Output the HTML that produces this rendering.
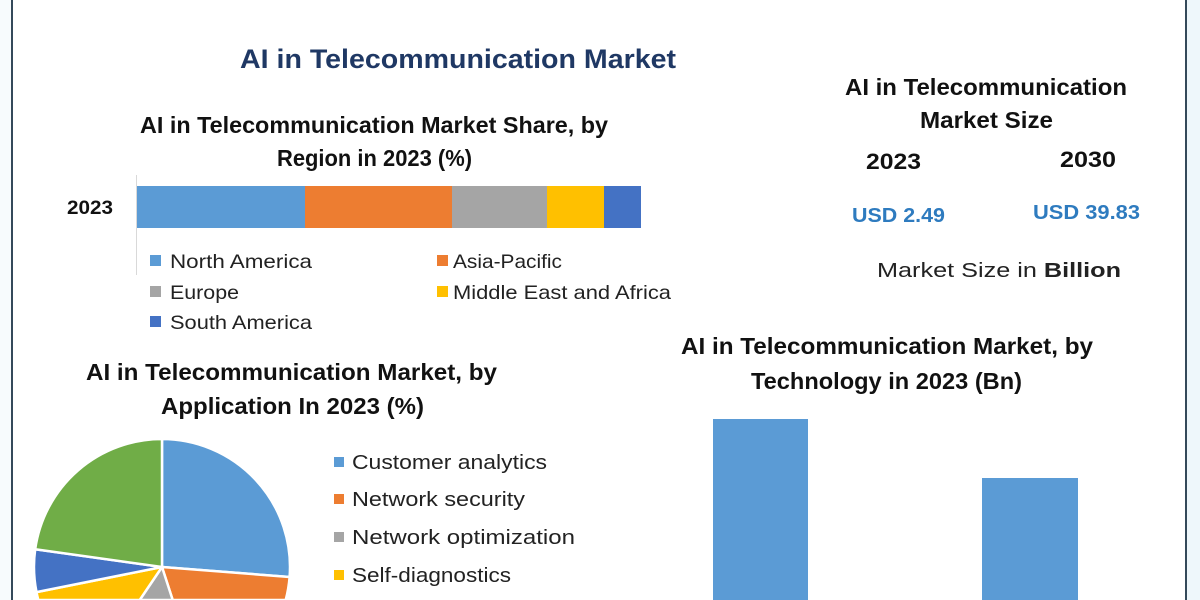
<!DOCTYPE html>
<html>
<head>
<meta charset="utf-8">
<style>
  html,body{margin:0;padding:0;background:#fff;}
  body{width:1200px;height:600px;overflow:hidden;}
  svg{display:block;overflow:hidden;}
  text{font-family:"Liberation Sans", Arial, sans-serif;}
</style>
</head>
<body>
<svg width="1200" height="600" viewBox="0 0 1200 600" xmlns="http://www.w3.org/2000/svg">
  <rect x="0" y="0" width="1200" height="600" fill="#ffffff"/>
  <rect x="1187" y="0" width="13" height="600" fill="#eef7fb"/>
  <rect x="0" y="0" width="11" height="600" fill="#f7fbfd"/>
  <!-- borders -->
  <rect x="11" y="0" width="2" height="600" fill="#34495a"/>
  <rect x="1185" y="0" width="2" height="600" fill="#34495a"/>

  <!-- Main title -->
  <text x="240" y="68" font-size="27" font-weight="bold" fill="#1f3864" textLength="436" lengthAdjust="spacingAndGlyphs">AI in Telecommunication Market</text>

  <!-- Region chart title -->
  <text x="140" y="133" font-size="23" font-weight="bold" fill="#111" textLength="468" lengthAdjust="spacingAndGlyphs">AI in Telecommunication Market Share, by</text>
  <text x="277" y="166" font-size="23" font-weight="bold" fill="#111" textLength="195" lengthAdjust="spacingAndGlyphs">Region in 2023 (%)</text>

  <!-- Region bar -->
  <line x1="136.5" y1="175" x2="136.5" y2="275" stroke="#d9d9d9" stroke-width="1"/>
  <text x="67" y="214" font-size="19" font-weight="bold" fill="#111" textLength="46" lengthAdjust="spacingAndGlyphs">2023</text>
  <rect x="137" y="186" width="168" height="42" fill="#5b9bd5"/>
  <rect x="305" y="186" width="147" height="42" fill="#ed7d31"/>
  <rect x="452" y="186" width="95" height="42" fill="#a5a5a5"/>
  <rect x="547" y="186" width="57" height="42" fill="#ffc000"/>
  <rect x="604" y="186" width="37" height="42" fill="#4472c4"/>

  <!-- Region legend -->
  <rect x="150" y="255" width="11" height="11" fill="#5b9bd5"/>
  <text x="170" y="268" font-size="19.5" fill="#222" textLength="142" lengthAdjust="spacingAndGlyphs">North America</text>
  <rect x="437" y="255" width="11" height="11" fill="#ed7d31"/>
  <text x="453" y="268" font-size="19.5" fill="#222" textLength="109" lengthAdjust="spacingAndGlyphs">Asia-Pacific</text>
  <rect x="150" y="286" width="11" height="11" fill="#a5a5a5"/>
  <text x="170" y="299" font-size="19.5" fill="#222" textLength="69" lengthAdjust="spacingAndGlyphs">Europe</text>
  <rect x="437" y="286" width="11" height="11" fill="#ffc000"/>
  <text x="453" y="299" font-size="19.5" fill="#222" textLength="218" lengthAdjust="spacingAndGlyphs">Middle East and Africa</text>
  <rect x="150" y="316" width="11" height="11" fill="#4472c4"/>
  <text x="170" y="329" font-size="19.5" fill="#222" textLength="142" lengthAdjust="spacingAndGlyphs">South America</text>

  <!-- Pie title -->
  <text x="86" y="380" font-size="23" font-weight="bold" fill="#111" textLength="411" lengthAdjust="spacingAndGlyphs">AI in Telecommunication Market, by</text>
  <text x="161" y="414" font-size="23" font-weight="bold" fill="#111" textLength="263" lengthAdjust="spacingAndGlyphs">Application In 2023 (%)</text>

  <!-- Pie (trimmed at y=600) -->
  <g stroke="#ffffff" stroke-width="2.5" stroke-linejoin="round">
    <path d="M162,567 L162,439 A128,128 0 0 1 289.6,577 Z" fill="#5b9bd5"/>
    <path d="M162,567 L289.6,577 A128,128 0 0 1 285.7,600 L172.7,600 Z" fill="#ed7d31"/>
    <path d="M162,567 L172.7,600 L139.7,600 Z" fill="#a5a5a5"/>
    <path d="M162,567 L139.7,600 L38.3,600 A128,128 0 0 1 36.5,592.1 Z" fill="#ffc000"/>
    <path d="M162,567 L36.5,592.1 A128,128 0 0 1 35.2,549.2 Z" fill="#4472c4"/>
    <path d="M162,567 L35.2,549.2 A128,128 0 0 1 162,439 Z" fill="#70ad47"/>
  </g>

  <!-- Pie legend -->
  <rect x="334" y="457" width="10" height="10" fill="#5b9bd5"/>
  <text x="352" y="469" font-size="20" fill="#222" textLength="195" lengthAdjust="spacingAndGlyphs">Customer analytics</text>
  <rect x="334" y="494" width="10" height="10" fill="#ed7d31"/>
  <text x="352" y="506" font-size="20" fill="#222" textLength="173" lengthAdjust="spacingAndGlyphs">Network security</text>
  <rect x="334" y="532" width="10" height="10" fill="#a5a5a5"/>
  <text x="352" y="544" font-size="20" fill="#222" textLength="223" lengthAdjust="spacingAndGlyphs">Network optimization</text>
  <rect x="334" y="570" width="10" height="10" fill="#ffc000"/>
  <text x="352" y="582" font-size="20" fill="#222" textLength="159" lengthAdjust="spacingAndGlyphs">Self-diagnostics</text>

  <!-- Market size block -->
  <text x="845" y="95" font-size="23" font-weight="bold" fill="#111" textLength="282" lengthAdjust="spacingAndGlyphs">AI in Telecommunication</text>
  <text x="920" y="128" font-size="23" font-weight="bold" fill="#111" textLength="133" lengthAdjust="spacingAndGlyphs">Market Size</text>
  <text x="866" y="169" font-size="22" font-weight="bold" fill="#111" textLength="55" lengthAdjust="spacingAndGlyphs">2023</text>
  <text x="1060" y="167" font-size="22" font-weight="bold" fill="#111" textLength="56" lengthAdjust="spacingAndGlyphs">2030</text>
  <text x="852" y="222" font-size="20" font-weight="bold" fill="#2e7bbf" textLength="93" lengthAdjust="spacingAndGlyphs">USD 2.49</text>
  <text x="1033" y="219" font-size="20" font-weight="bold" fill="#2e7bbf" textLength="107" lengthAdjust="spacingAndGlyphs">USD 39.83</text>
  <text x="877" y="277" font-size="20" fill="#222" textLength="244" lengthAdjust="spacingAndGlyphs">Market Size in <tspan font-weight="bold">Billion</tspan></text>

  <!-- Technology chart -->
  <text x="681" y="354" font-size="23" font-weight="bold" fill="#111" textLength="412" lengthAdjust="spacingAndGlyphs">AI in Telecommunication Market, by</text>
  <text x="751" y="389" font-size="23" font-weight="bold" fill="#111" textLength="271" lengthAdjust="spacingAndGlyphs">Technology in 2023 (Bn)</text>
  <rect x="713" y="419" width="95" height="181" fill="#5b9bd5"/>
  <rect x="982" y="478" width="96" height="122" fill="#5b9bd5"/>
</svg>
</body>
</html>
